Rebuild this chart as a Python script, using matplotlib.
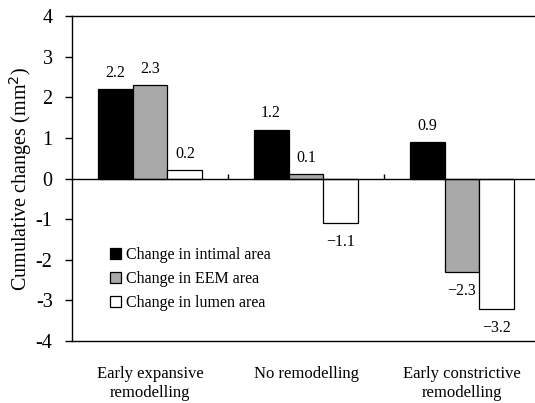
import numpy as np
import matplotlib.pyplot as plt

plt.rcParams['font.family'] = ['Liberation Serif', 'DejaVu Serif']
plt.rcParams['axes.unicode_minus'] = False

groups = ["Early expansive\nremodelling", "No remodelling", "Early constrictive\nremodelling"]
intimal = [2.2, 1.2, 0.9]
eem = [2.3, 0.1, -2.3]
lumen = [0.2, -1.1, -3.2]
series_names = ["Change in intimal area", "Change in EEM area", "Change in lumen area"]
colors = ["black", "#a9a9a9", "white"]

fig = plt.figure(figsize=(5.35, 4.03), dpi=100)
ax = fig.add_axes([0.1346, 0.1538, 0.8748, 0.8065])

x = np.arange(len(groups))
w = 0.224
for i, (vals, name, c) in enumerate(zip([intimal, eem, lumen], series_names, colors)):
    pos = x + (i - 1) * w
    ax.bar(pos, vals, w, color=c, edgecolor="black", linewidth=0.9, label=name)
    for px, v in zip(pos, vals):
        off = 6 if v >= 0 else -8
        # value labels use a proper minus sign
        ax.annotate(f"{v:.1f}".replace("-", "\u2212"), (px, v), xytext=(0, off),
                    textcoords="offset points", ha="center",
                    va="bottom" if v >= 0 else "top", fontsize=11.5)

ax.axhline(0, color="black", linewidth=1.0)
ax.vlines(x[:-1] + 0.5, 0, 0.11, color="black", linewidth=1.0)

ax.set_xlim(-0.5, len(groups) - 0.5)
ax.set_ylim(-4, 4)
ax.set_yticks(range(-4, 5))
ax.tick_params(axis="y", direction="out", length=5, width=1, labelsize=14.5, pad=9)
ax.set_xticks([])
for s in ax.spines.values():
    s.set_linewidth(1.0)

for xi, g in zip(x, groups):
    ax.text(xi, -4.62, g, ha="center", va="top", multialignment="center", fontsize=12)

ax.set_ylabel("Cumulative changes (mm$^2$)", fontsize=14.5, labelpad=1)

ax.legend(loc="lower left", bbox_to_anchor=(0.068, 0.073), frameon=False, fontsize=11.5,
          handlelength=0.7, handleheight=0.7, handletextpad=0.3, labelspacing=0.5,
          borderaxespad=0)

fig.savefig("out.png", dpi=100)
